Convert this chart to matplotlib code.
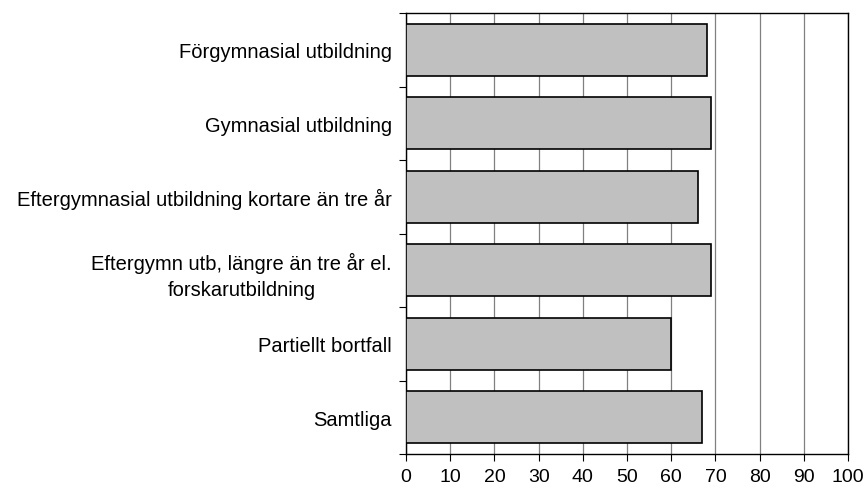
import numpy as np
import matplotlib as mpl
import matplotlib.pyplot as plt
from matplotlib.ticker import FixedLocator, NullFormatter

mpl.use('Agg')
plt.rcParams['font.family'] = ['Liberation Sans', 'DejaVu Sans']
plt.rcParams['font.size'] = 14.5

categories = [
    "Förgymnasial utbildning",
    "Gymnasial utbildning",
    "Eftergymnasial utbildning kortare än tre år",
    "Eftergymn utb, längre än tre år el.\nforskarutbildning",
    "Partiellt bortfall",
    "Samtliga",
]
values = [68, 69, 66, 69, 60, 67]
xticks = list(range(0, 101, 10))

fig = plt.figure(figsize=(8.67, 4.89), dpi=100)
ax = fig.add_axes([406/867, 1-455/489, (848-406)/867, (455-14)/489])

y = np.arange(len(categories))
ax.barh(y, values, height=0.71, color="#c0c0c0", edgecolor="black",
        linewidth=1.2, zorder=3)

ax.set_xlim(0, 100)
ax.set_ylim(len(categories)-0.5, -0.5)
ax.set_xticks(xticks)
ax.set_yticks(y)
ax.set_yticklabels(categories, multialignment="center", linespacing=1.45)
ax.yaxis.set_minor_locator(FixedLocator(np.arange(-0.5, len(categories), 1)))
ax.yaxis.set_minor_formatter(NullFormatter())
ax.tick_params(axis="y", which="major", length=0, pad=10)
ax.tick_params(axis="y", which="minor", length=5, width=0.8, direction="out")
ax.tick_params(axis="x", length=5, width=0.8, direction="out", pad=5,
               labelsize=14)

ax.grid(axis="x", color="#808080", linewidth=0.9, zorder=0)
for s in ax.spines.values():
    s.set_linewidth(1.0)

plt.savefig("out.png", dpi=100)
